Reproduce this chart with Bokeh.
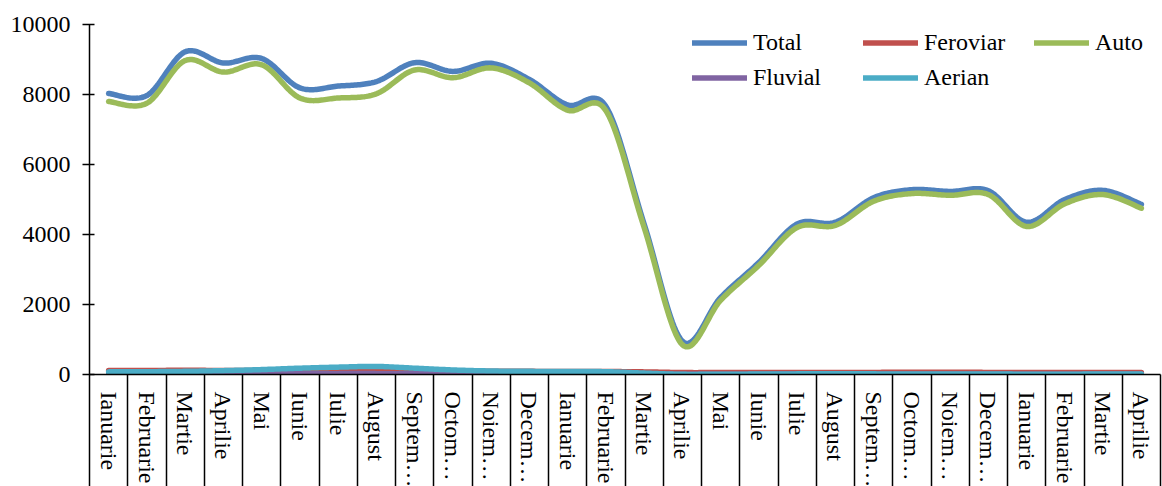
import numpy as np
from bokeh.plotting import figure
from bokeh.models import Range1d, FixedTicker, Legend, LegendItem
from bokeh.embed import file_html
from bokeh.resources import INLINE

months = ["Ianuarie", "Februarie", "Martie", "Aprilie", "Mai", "Iunie", "Iulie",
          "August", "Septem…", "Octom…", "Noiem…", "Decem…"]
categories = months + months + months[:4]

total = [8030, 7970, 9220, 8900, 9030, 8190, 8240, 8370, 8910, 8660, 8890, 8430,
         7700, 7660, 4300, 950, 2200, 3200, 4300, 4350, 5050, 5280, 5230, 5250,
         4350, 5000, 5260, 4860]
feroviar = [115, 115, 120, 115, 110, 105, 100, 100, 100, 100, 95, 90,
            85, 85, 75, 55, 55, 55, 60, 60, 60, 65, 65, 60,
            55, 60, 60, 55]
auto = [7800, 7750, 8970, 8640, 8850, 7900, 7900, 8020, 8700, 8480, 8760, 8330,
        7550, 7540, 4200, 850, 2120, 3120, 4200, 4260, 4950, 5170, 5120, 5140,
        4230, 4880, 5140, 4750]
fluvial = [5, 5, 8, 10, 15, 20, 25, 25, 20, 15, 10, 8,
           5, 5, 5, 5, 8, 10, 12, 12, 10, 10, 8, 5,
           5, 5, 8, 10]
aerian = [75, 80, 90, 110, 140, 180, 210, 230, 180, 130, 100, 90,
          85, 80, 40, 5, 8, 12, 18, 20, 18, 15, 12, 12,
          10, 10, 12, 15]

series = [("Total", total, "#4F81BD"), ("Feroviar", feroviar, "#C0504D"),
          ("Auto", auto, "#9BBB59"), ("Fluvial", fluvial, "#8064A2"),
          ("Aerian", aerian, "#4BACC6")]


def smooth(xs, ys, n=24):
    """Excel-like smoothed line (Catmull-Rom as cubic Bezier)."""
    P = np.column_stack([np.asarray(xs, float), np.asarray(ys, float)])
    Pe = np.vstack([P[0], P, P[-1]])
    out = []
    t = np.linspace(0, 1, n)[:, None]
    for i in range(len(P) - 1):
        p0, p1, p2, p3 = Pe[i], Pe[i + 1], Pe[i + 2], Pe[i + 3]
        c1 = p1 + (p2 - p0) / 6.0
        c2 = p2 - (p3 - p1) / 6.0
        seg = ((1 - t) ** 3) * p1 + 3 * ((1 - t) ** 2) * t * c1 + 3 * (1 - t) * t ** 2 * c2 + t ** 3 * p2
        out.append(seg if i == 0 else seg[1:])
    arr = np.vstack(out)
    return arr[:, 0], arr[:, 1]


FONT = "Liberation Serif"

p = figure(frame_width=1071, frame_height=350,
           x_range=Range1d(-0.5, len(categories) - 0.5), y_range=Range1d(0, 10000),
           output_backend="svg", toolbar_location=None,
           min_border_left=89, min_border_right=2, min_border_top=24, min_border_bottom=112)
p.grid.visible = False
p.outline_line_color = None
p.background_fill_color = "white"
p.border_fill_color = "white"

xs = list(range(len(categories)))
renderers = {}
for name, vals, col in series:
    sx, sy = smooth(xs, vals)
    r = p.line(sx, sy, line_color=col, line_width=5.5, line_cap="round", line_join="round")
    renderers[name] = r

# y axis
ya = p.yaxis[0]
ya.ticker = FixedTicker(ticks=[0, 2000, 4000, 6000, 8000, 10000])
ya.major_label_text_font = FONT
ya.major_label_text_font_size = "24px"
ya.major_label_text_color = "black"
ya.major_tick_in = 5
ya.major_tick_out = 7
ya.minor_tick_line_color = None
ya.axis_line_width = 1.5
ya.major_tick_line_width = 1.5
ya.axis_line_color = "black"
ya.major_tick_line_color = "black"
ya.major_label_standoff = 12

# x axis
xa = p.xaxis[0]
xa.ticker = FixedTicker(ticks=xs, minor_ticks=[i - 0.5 for i in range(len(categories) + 1)])
xa.major_label_overrides = {i: c for i, c in enumerate(categories)}
xa.major_label_orientation = "vertical"
xa.major_label_text_font = FONT
xa.major_label_text_font_size = "24px"
xa.major_label_text_color = "black"
xa.major_tick_in = 0
xa.major_tick_out = 0
xa.minor_tick_in = 0
xa.minor_tick_out = 112
xa.minor_tick_line_color = "black"
xa.minor_tick_line_width = 1.5
xa.axis_line_width = 1.5
xa.axis_line_color = "black"
xa.major_label_standoff = -95

items = [LegendItem(label=n, renderers=[renderers[n]]) for n, _, _ in series]
legend = Legend(items=items, orientation="horizontal", ncols=3,
                location=(603, 279), glyph_width=55, glyph_height=35,
                label_height=35, label_width=110, label_standoff=6,
                spacing=0, padding=0, margin=0, border_line_color=None,
                background_fill_alpha=0, label_text_font=FONT,
                label_text_font_size="24px", label_text_color="black")
p.add_layout(legend)

open("out.html", "w").write(file_html(p, INLINE))
